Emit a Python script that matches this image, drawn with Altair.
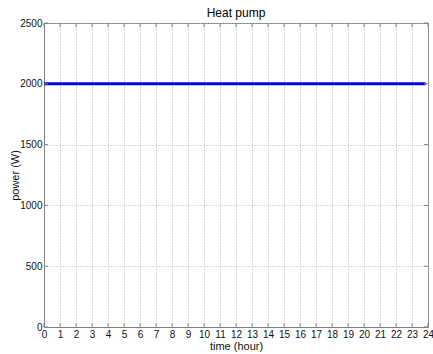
import altair as alt
import pandas as pd

# data
time_h = [0, 23.85]
power_w = [2000, 2000]
x_ticks = list(range(0, 25))
y_ticks = [0, 500, 1000, 1500, 2000, 2500]

W, H = 384, 304
FONT = "Liberation Sans"
AX = "#808080"

df = pd.DataFrame({"time": time_h, "power": power_w})
xt = pd.DataFrame({"t": x_ticks})
yt = pd.DataFrame({"p": y_ticks})

xs = alt.Scale(domain=[0, 24], nice=False, zero=False)
ys = alt.Scale(domain=[0, 2500], nice=False, zero=False)

xaxis = alt.Axis(values=x_ticks, title="time (hour)", labelPadding=2, ticks=False,
                 format="d", labelOverlap=False,
                 titleY=13, titleBaseline="top")
yaxis = alt.Axis(values=y_ticks, title="power (W)", labelPadding=2, ticks=False,
                 format="d", labelOverlap=False,
                 titleX=-24, titleY=H / 2)

line = alt.Chart(df).mark_line(color="#0000ee", strokeWidth=3, clip=True).encode(
    x=alt.X("time:Q", scale=xs, axis=xaxis),
    y=alt.Y("power:Q", scale=ys, axis=yaxis),
)

tick_len = 4
xb = alt.Chart(xt).mark_rule(color=AX, strokeWidth=1).encode(
    x=alt.X("t:Q", scale=xs, axis=xaxis), y=alt.value(H), y2=alt.value(H - tick_len))
xtop = alt.Chart(xt).mark_rule(color=AX, strokeWidth=1).encode(
    x=alt.X("t:Q", scale=xs, axis=xaxis), y=alt.value(0), y2=alt.value(tick_len))
yl = alt.Chart(yt).mark_rule(color=AX, strokeWidth=1).encode(
    y=alt.Y("p:Q", scale=ys, axis=yaxis), x=alt.value(0), x2=alt.value(tick_len))
yr = alt.Chart(yt).mark_rule(color=AX, strokeWidth=1).encode(
    y=alt.Y("p:Q", scale=ys, axis=yaxis), x=alt.value(W - tick_len), x2=alt.value(W))

chart = alt.layer(line, xb, xtop, yl, yr).properties(
    width=W, height=H,
    background="white",
    title=alt.TitleParams("Heat pump", fontSize=12, fontWeight="normal", font=FONT,
                          color="#000", offset=-2, anchor="middle"),
    autosize=alt.AutoSizeParams(type="none"),
    padding={"left": 44, "top": 23, "right": 5, "bottom": 27},
).configure_view(stroke=AX, strokeWidth=1).configure_axis(
    domainColor=AX, labelFont=FONT, titleFont=FONT, labelFontSize=10, titleFontSize=11,
    labelColor="#111", titleColor="#111", titleFontWeight="normal",
    grid=True, gridColor="#b4b4b4", gridDash=[1, 2], gridWidth=1,
    labelFlush=False,
)

chart.save("out.html", embed_options={"renderer": "svg", "actions": False})
